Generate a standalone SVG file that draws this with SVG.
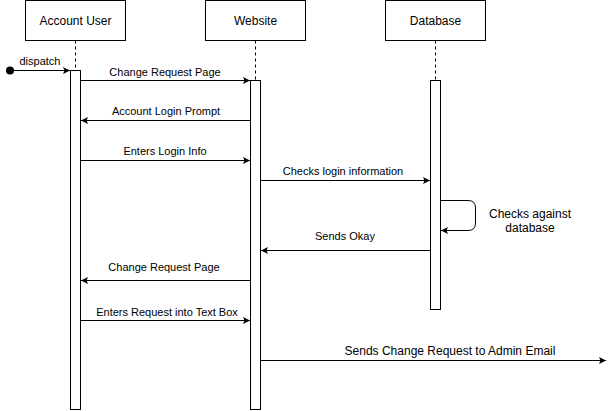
<svg xmlns="http://www.w3.org/2000/svg" width="614" height="411" viewBox="0 0 614 411">
<style>
.box{fill:#fff;stroke:#000;stroke-width:1}
.life{stroke:#000;stroke-width:1;stroke-dasharray:3 3;fill:none}
.act{fill:#fff;stroke:#000;stroke-width:1}
.msg{stroke:#000;stroke-width:1;fill:none}
.h{font-family:"Liberation Sans",Arial,sans-serif;font-size:12px;fill:#000;text-anchor:middle}
.l{font-family:"Liberation Sans",Arial,sans-serif;font-size:11px;fill:#000;text-anchor:middle}
.l2{font-family:"Liberation Sans",Arial,sans-serif;font-size:12px;fill:#000;text-anchor:middle}
</style>
<defs>
<marker id="ah" markerWidth="8" markerHeight="8" refX="7" refY="4" orient="auto" markerUnits="userSpaceOnUse">
<path d="M0,0.5 L7,4 L0,7.5 L1.5,4 Z" fill="#000"/>
</marker>
</defs>
<rect width="614" height="411" fill="#fff"/>
<g id="account-user">
<rect class="box" x="25.5" y="0.5" width="100" height="40"/>
<text class="h" x="75.5" y="24.5">Account User</text>
<line class="life" x1="75.5" y1="40.5" x2="75.5" y2="70"/>
<rect class="act" x="70.5" y="70.5" width="10" height="339"/>
</g>
<g id="website">
<rect class="box" x="205.5" y="0.5" width="100" height="40"/>
<text class="h" x="255.5" y="24.5">Website</text>
<line class="life" x1="255.5" y1="40.5" x2="255.5" y2="80"/>
<rect class="act" x="250.5" y="80.5" width="10" height="329"/>
</g>
<g id="database">
<rect class="box" x="385.5" y="0.5" width="100" height="40"/>
<text class="h" x="435.5" y="24.5">Database</text>
<line class="life" x1="435.5" y1="40.5" x2="435.5" y2="80"/>
<rect class="act" x="430.5" y="80.5" width="10" height="229"/>
</g>
<g id="connectors">
<circle cx="10" cy="70.5" r="4" fill="#000"/>
<line class="msg" x1="10" y1="70.5" x2="70" y2="70.5" marker-end="url(#ah)"/>
<text class="l" x="40" y="65" >dispatch</text>
<line class="msg" x1="80.5" y1="80.5" x2="250" y2="80.5" marker-end="url(#ah)"/>
<text class="l" x="165" y="76">Change Request Page</text>
<line class="msg" x1="250.5" y1="120.5" x2="81" y2="120.5" marker-end="url(#ah)"/>
<text class="l" x="166" y="115">Account Login Prompt</text>
<line class="msg" x1="80.5" y1="160.5" x2="250" y2="160.5" marker-end="url(#ah)"/>
<text class="l" x="165" y="155">Enters Login Info</text>
<line class="msg" x1="260.5" y1="180.5" x2="430" y2="180.5" marker-end="url(#ah)"/>
<text class="l" x="343" y="175">Checks login information</text>
<path class="msg" d="M440.5,200.5 H468 Q475.5,200.5 475.5,208 V223 Q475.5,230.5 468,230.5 H441" marker-end="url(#ah)"/>
<text class="l2" x="530" y="218">Checks against</text>
<text class="l2" x="530" y="232">database</text>
<line class="msg" x1="430.5" y1="250.5" x2="261" y2="250.5" marker-end="url(#ah)"/>
<text class="l" x="345" y="240">Sends Okay</text>
<line class="msg" x1="250.5" y1="280.5" x2="81" y2="280.5" marker-end="url(#ah)"/>
<text class="l" x="164" y="271">Change Request Page</text>
<line class="msg" x1="80.5" y1="320.5" x2="250" y2="320.5" marker-end="url(#ah)"/>
<text class="l" x="167" y="316">Enters Request into Text Box</text>
<line class="msg" x1="260.5" y1="360.5" x2="606" y2="360.5" marker-end="url(#ah)"/>
<text class="l2" x="450" y="355">Sends Change Request to Admin Email</text>
</g>
</svg>
